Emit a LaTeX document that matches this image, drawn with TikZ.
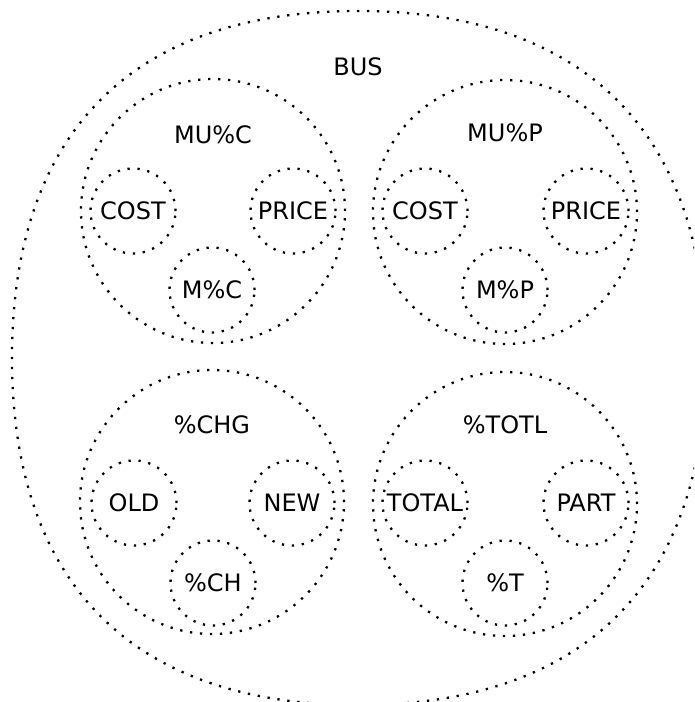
\documentclass[tikz,border=0pt]{standalone}
\usepackage{fontspec}
\setmainfont{DejaVu Sans}
\tikzset{
  dots/.style={line width=2.3pt, dash pattern=on 2.3pt off 7.7pt},
  txt/.style={font=\fontsize{24}{28}\selectfont, text height=17.4pt, text depth=0pt, inner sep=0pt},
  bigc/.style={circle, draw, dots, minimum size=264pt, inner sep=0pt},
  smallc/.style={circle, draw, dots, txt, minimum size=85pt}
}
\begin{document}
\begin{tikzpicture}[x=1pt,y=-1pt]
\clip (0,0) rectangle (694,702);
% outer BUS region (squarish rounded outline)
\coordinate (bR) at (706,358);
\coordinate (bB) at (358,705);
\coordinate (bL) at (12,358);
\coordinate (bT) at (358,11);
\draw[dots] (bR) .. controls (706,584) and (584,705) .. (bB)
  .. controls (133,705) and (12,584) .. (bL)
  .. controls (12,132) and (133,11) .. (bT)
  .. controls (584,11) and (706,132) .. (bR) -- cycle;
\node[txt] (busl) at (358,67) {BUS};
% MU%C
\node[bigc] (muc) at (213,211) {};
\node[txt] (mucl) at (213,135) {MU\%C};
\node[smallc] (cost1) at (133,211) {COST};
\node[smallc] (price1) at (293,211) {PRICE};
\node[smallc] (mc) at (212,290) {M\%C};
% MU%P
\node[bigc] (mup) at (505,212) {};
\node[txt] (mupl) at (505,133) {MU\%P};
\node[smallc] (cost2) at (425,211) {COST};
\node[smallc] (price2) at (586,211) {PRICE};
\node[smallc] (mp) at (505,290) {M\%P};
% %CHG
\node[bigc] (chg) at (212,502) {};
\node[txt] (chgl) at (212,425) {\%CHG};
\node[smallc] (old) at (134,503) {OLD};
\node[smallc] (new) at (292,503) {NEW};
\node[smallc] (ch) at (213,583) {\%CH};
% %TOTL
\node[bigc] (totl) at (505,504) {};
\node[txt] (totll) at (505,425) {\%TOTL};
\node[smallc] (total) at (425,503) {TOTAL};
\node[smallc] (part) at (586,503) {PART};
\node[smallc] (pt) at (505,583) {\%T};
\end{tikzpicture}
\end{document}
